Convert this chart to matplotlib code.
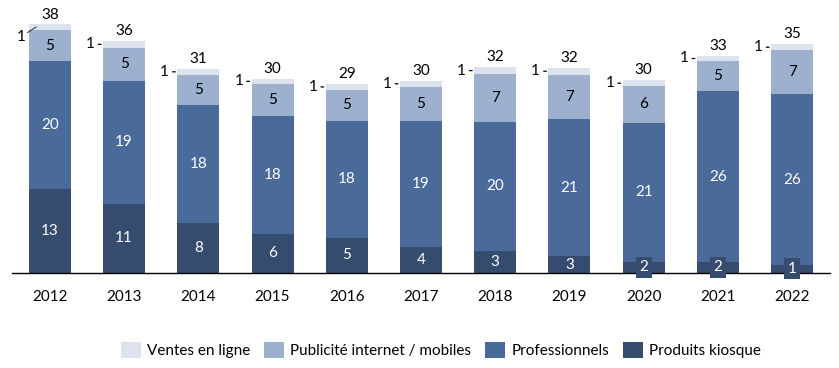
import matplotlib
matplotlib.use("Agg")
import matplotlib.pyplot as plt
import numpy as np

plt.rcParams['font.family'] = ['Lato', 'DejaVu Sans']

# data (values before rounding)
years = ["2012", "2013", "2014", "2015", "2016", "2017", "2018", "2019", "2020", "2021", "2022"]
kiosque = [12.97, 10.66, 7.74, 6.05, 5.4, 4.05, 3.4, 2.6, 1.74, 1.74, 1.28]
professionnels = [19.6, 18.9, 18.15, 18.15, 18.0, 19.4, 19.9, 21.1, 21.4, 26.2, 26.2]
publicite = [4.77, 5.08, 4.6, 4.9, 4.77, 5.2, 7.3, 6.8, 5.6, 4.6, 6.8]
ventes = [0.92, 1.08, 0.92, 0.77, 0.92, 0.92, 1.08, 1.08, 0.92, 0.92, 0.92]

c_ventes = "#DCE3EE"
c_pub = "#9DB0CE"
c_prof = "#4A6A99"
c_kiosque = "#364C6E"

fig = plt.figure(figsize=(8.39, 3.68), dpi=100)
ax = fig.add_axes([12 / 839, 1 - 273 / 368, 818 / 839, 266.5 / 368])

x = np.arange(len(years))
w = 0.565
k = np.array(kiosque)
p = np.array(professionnels)
pu = np.array(publicite)
v = np.array(ventes)

ax.bar(x, k, w, color=c_kiosque, label="Produits kiosque")
ax.bar(x, p, w, bottom=k, color=c_prof, label="Professionnels")
ax.bar(x, pu, w, bottom=k + p, color=c_pub, label="Publicité internet / mobiles")
ax.bar(x, v, w, bottom=k + p + pu, color=c_ventes, label="Ventes en ligne")

fs = 11
total = k + p + pu + v
for i in range(len(x)):
    # kiosque, small ones get a box like in the original
    if k[i] < 2:
        ax.text(x[i], k[i] / 2, f"{k[i]:.0f}", ha="center", va="center", color="white",
                fontsize=fs, clip_on=False,
                bbox=dict(facecolor=c_kiosque, edgecolor="none", pad=2.5))
    else:
        ax.text(x[i], k[i] / 2, f"{k[i]:.0f}", ha="center", va="center", color="white", fontsize=fs)
    ax.text(x[i], k[i] + p[i] / 2, f"{p[i]:.0f}", ha="center", va="center", color="white", fontsize=fs)
    ax.text(x[i], k[i] + p[i] + pu[i] / 2, f"{pu[i]:.0f}", ha="center", va="center", color="black", fontsize=fs)
    ax.annotate(f"{total[i]:.0f}", xy=(x[i], total[i]), xytext=(0, 2), textcoords="offset points",
                ha="center", va="bottom", fontsize=fs)
    vmid = total[i] - v[i] / 2
    if i == 0:
        ax.annotate(f"{v[i]:.0f}", xy=(x[i] - w / 2 + 0.1, total[i] - 0.4), xytext=(-11, -7),
                    textcoords="offset points", ha="center", va="center", fontsize=fs,
                    arrowprops=dict(arrowstyle="-", lw=0.7, color="#333333", patchA=None,
                                    relpos=(1, 0.7), shrinkA=1.5, shrinkB=0))
    else:
        ax.annotate(f"{v[i]:.0f}", xy=(x[i] - w / 2, vmid), xytext=(-6, 0),
                    textcoords="offset points", ha="right", va="center", fontsize=fs,
                    arrowprops=dict(arrowstyle="-", lw=0.9, color="black", patchA=None,
                                    relpos=(1, 0.5), shrinkA=2.5, shrinkB=-1.5))

ax.set_xlim(-0.51, 10.51)
ax.set_ylim(0, 41)
ax.set_xticks(x)
ax.set_xticklabels(years, fontsize=fs)
ax.tick_params(axis="x", length=0, pad=12)
ax.set_yticks([])
for s in ["top", "right", "left"]:
    ax.spines[s].set_visible(False)
ax.spines["bottom"].set_linewidth(1.0)
ax.spines["bottom"].set_color("black")

handles, labels = ax.get_legend_handles_labels()
fig.legend(handles[::-1], labels[::-1], loc="center", bbox_to_anchor=(441 / 839, 1 - 350 / 368),
           ncol=4, frameon=False, fontsize=fs, handlelength=1.3, handleheight=1.3,
           handletextpad=0.4, columnspacing=0.9)

fig.savefig("out.png", dpi=100)
